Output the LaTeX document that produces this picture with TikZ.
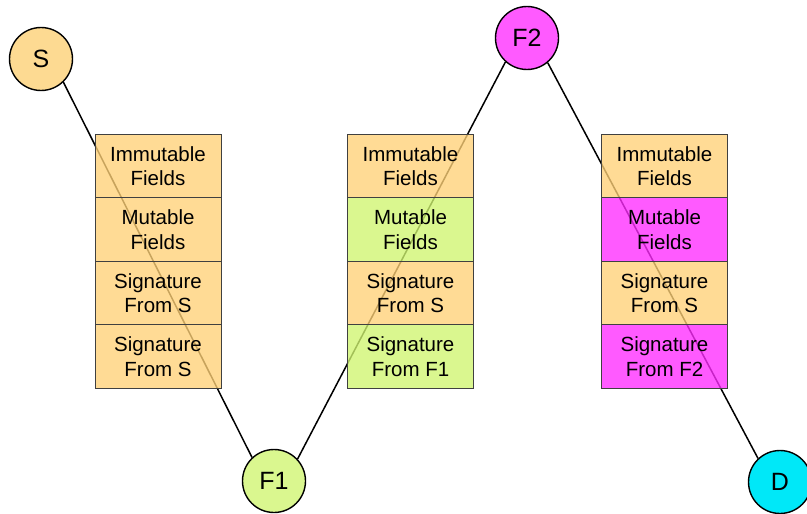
\documentclass[tikz,border=0pt]{standalone}
\usepackage{fontspec}
\setmainfont{Liberation Sans}
\usetikzlibrary{backgrounds}
\definecolor{tan}{HTML}{FDDA92}
\definecolor{lime}{HTML}{DAF78F}
\definecolor{pink}{HTML}{FF5AFF}
\definecolor{aqua}{HTML}{00E8F8}
% cell fills, darker to make up for the opacity
\definecolor{tanc}{HTML}{FFD177}
\definecolor{limec}{HTML}{D0F570}
\definecolor{pinkc}{HTML}{FF2CFF}
\tikzset{
  hop/.style={circle,draw=black,line width=1.4pt,minimum size=63pt,inner sep=0pt,font=\fontsize{25}{28}\selectfont},
  cell/.style={draw=black!75,line width=0.8pt,fill opacity=0.78,text opacity=1,minimum width=126pt,minimum height=63.5pt,align=center,inner sep=0pt,font=\fontsize{20.5}{24.5}\selectfont},
  tcell/.style={cell,fill=tanc},
  gcell/.style={cell,fill=limec},
  mcell/.style={cell,fill=pinkc},
  link/.style={line width=1.5pt,draw=black},
}
\begin{document}
\begin{tikzpicture}[x=1pt,y=-1pt]
  \useasboundingbox (0,0) rectangle (807,514);
  % hops
  \node[hop,fill=tan] (S) at (41,59) {S};
  \node[hop,fill=lime] (F1) at (274,481) {F1};
  \node[hop,fill=pink] (F2) at (527,38) {F2};
  \node[hop,fill=aqua] (D) at (780,482) {D};
  % packet at S
  \node[tcell] (i1) at (158,166) {Immutable\\Fields};
  \node[tcell] (m1) at (158,229.5) {Mutable\\Fields};
  \node[tcell] (s1) at (158,293) {Signature\\From S};
  \node[tcell] (t1) at (158,356.5) {Signature\\From S};
  % packet at F1
  \node[tcell] (i2) at (410.5,166) {Immutable\\Fields};
  \node[gcell] (m2) at (410.5,229.5) {Mutable\\Fields};
  \node[tcell] (s2) at (410.5,293) {Signature\\From S};
  \node[gcell] (t2) at (410.5,356.5) {Signature\\From F1};
  % packet at F2
  \node[tcell] (i3) at (664.5,166) {Immutable\\Fields};
  \node[mcell] (m3) at (664.5,229.5) {Mutable\\Fields};
  \node[tcell] (s3) at (664.5,293) {Signature\\From S};
  \node[mcell] (t3) at (664.5,356.5) {Signature\\From F2};
  % path
  \begin{scope}[on background layer]
    \draw[link] (S.-46) -- (F1.133);
    \draw[link] (F1.43) -- (F2.228);
    \draw[link] (F2.-50) -- (D.133);
  \end{scope}
\end{tikzpicture}
\end{document}
